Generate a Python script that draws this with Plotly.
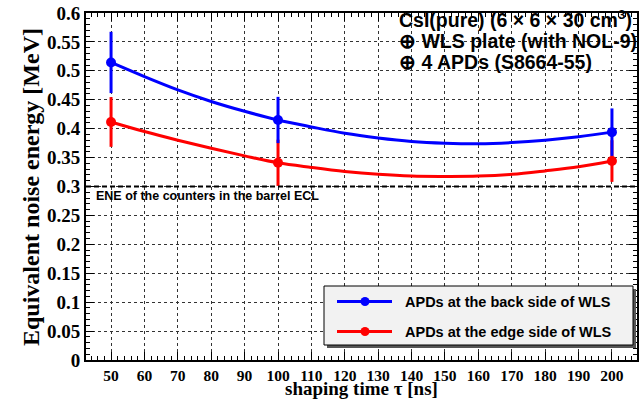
import plotly.graph_objects as go

# ---------------- data ----------------
TAU = [50, 100, 200]                       # shaping time [ns]
ENE_BACK = [0.5145, 0.415, 0.394]          # APDs at the back side of WLS [MeV]
ERR_BACK = [0.053, 0.040, 0.041]
ENE_EDGE = [0.4116, 0.341, 0.344]          # APDs at the edge side of WLS [MeV]
ERR_EDGE = [0.043, 0.040, 0.036]

FIT_TAU = [50, 60, 70, 80, 90, 100, 110, 120, 130, 140, 150, 160, 170, 180, 190, 200]
FIT_BACK = [0.5145, 0.490, 0.467, 0.447, 0.430, 0.415, 0.403, 0.392, 0.384, 0.378,
            0.375, 0.374, 0.376, 0.380, 0.386, 0.394]
FIT_EDGE = [0.4116, 0.395, 0.380, 0.366, 0.353, 0.341, 0.333, 0.326, 0.321, 0.318,
            0.3175, 0.318, 0.321, 0.327, 0.334, 0.344]

BARREL_ENE = 0.3
X_TICKS = list(range(50, 201, 10))
Y_TICKS = [0, 0.05, 0.1, 0.15, 0.2, 0.25, 0.3, 0.35, 0.4, 0.45, 0.5, 0.55, 0.6]
Y_TICK_TEXT = ["0", "0.05", "0.1", "0.15", "0.2", "0.25", "0.3", "0.35", "0.4",
               "0.45", "0.5", "0.55", "0.6"]

SERIES = [
    ("APDs at the back side of WLS", "#0000ff"),
    ("APDs at the edge side of WLS", "#ff0000"),
]
X_TITLE = "shaping time τ [ns]"
Y_TITLE = "Equivalent noise energy [MeV]"

# ---------------- geometry helpers (pixels -> paper) ----------------
W, H = 644, 400
ML, MR, MT, MB = 86, 7, 13, 40
PW, PH = W - ML - MR, H - MT - MB


def px(x):
    return (x - ML) / PW


def py(y):
    return (H - MB - y) / PH


fig = go.Figure()

# fit curves
fig.add_trace(go.Scatter(x=FIT_TAU, y=FIT_EDGE, mode="lines", line=dict(color=SERIES[1][1], width=3, shape="spline"),
                         showlegend=False, hoverinfo="skip"))
fig.add_trace(go.Scatter(x=FIT_TAU, y=FIT_BACK, mode="lines", line=dict(color=SERIES[0][1], width=3, shape="spline"),
                         showlegend=False, hoverinfo="skip"))
# data points with errors (red first so blue sits on top)
fig.add_trace(go.Scatter(x=TAU, y=ENE_EDGE, mode="markers", name=SERIES[1][0],
                         marker=dict(color=SERIES[1][1], size=10),
                         error_y=dict(type="data", array=ERR_EDGE, color=SERIES[1][1], thickness=3, width=0),
                         showlegend=False))
fig.add_trace(go.Scatter(x=TAU, y=ENE_BACK, mode="markers", name=SERIES[0][0],
                         marker=dict(color=SERIES[0][1], size=10),
                         error_y=dict(type="data", array=ERR_BACK, color=SERIES[0][1], thickness=3, width=0),
                         showlegend=False))

shapes = []
# barrel ECL reference line
shapes.append(dict(type="line", xref="paper", x0=0, x1=1, yref="y", y0=BARREL_ENE, y1=BARREL_ENE,
                   line=dict(color="black", width=2, dash="5px,3px")))

# manual legend (ROOT style box with shadow)
bx0, bx1, by0, by1 = 324, 633, 286, 345
shapes.append(dict(type="rect", xref="paper", yref="paper", x0=px(bx0 + 3), x1=px(bx1 + 3),
                   y0=py(by1 + 3), y1=py(by0 + 3), fillcolor="#555555", line=dict(width=0)))
shapes.append(dict(type="rect", xref="paper", yref="paper", x0=px(bx0), x1=px(bx1),
                   y0=py(by1), y1=py(by0), fillcolor="#f2f2f2", line=dict(color="black", width=1)))
annotations = []
for i, (label, color) in enumerate(SERIES):
    yc = 301.5 + 30 * i
    shapes.append(dict(type="line", xref="paper", yref="paper", x0=px(337), x1=px(392),
                       y0=py(yc), y1=py(yc), line=dict(color=color, width=3)))
    shapes.append(dict(type="circle", xref="paper", yref="paper", x0=px(360.5), x1=px(369.5),
                       y0=py(yc + 4.5), y1=py(yc - 4.5), fillcolor=color, line=dict(color=color, width=0)))
    annotations.append(dict(text=label, xref="paper", yref="paper", x=px(403), y=py(yc),
                            xanchor="left", yanchor="middle", showarrow=False,
                            font=dict(family="Liberation Sans", size=14.5, color="black", weight="bold")))

# header text
header = ["CsI(pure) (6 × 6 × 30 cm<sup>3</sup>)", "⊕ WLS plate (with NOL-9)", "⊕ 4 APDs (S8664-55)"]
for j, (t, yc) in enumerate(zip(header, [19, 41, 62])):
    annotations.append(dict(text=t, xref="paper", yref="paper", x=px(397), y=py(yc),
                            xanchor="left", yanchor="middle", showarrow=False,
                            font=dict(family="Liberation Sans", size=19.5, color="black", weight="bold")))

annotations.append(dict(text="ENE of the counters in the barrel ECL", xref="paper", yref="y",
                        x=px(94), y=BARREL_ENE, yshift=-9, xanchor="left", yanchor="middle", showarrow=False,
                        font=dict(family="Liberation Sans", size=12.5, color="black", weight="bold")))

# axis titles
annotations.append(dict(text=X_TITLE, xref="paper", yref="paper", x=0.5, y=py(388.5),
                        xanchor="center", yanchor="middle", showarrow=False,
                        font=dict(family="Liberation Serif", size=19, color="black", weight="bold")))
annotations.append(dict(text=Y_TITLE, xref="paper", yref="paper", x=px(31), y=py(187), textangle=-90,
                        xanchor="center", yanchor="middle", showarrow=False,
                        font=dict(family="Liberation Serif", size=24, color="black", weight="bold")))

fig.update_layout(
    width=W, height=H,
    margin=dict(l=ML, r=MR, t=MT, b=MB),
    paper_bgcolor="white", plot_bgcolor="white",
    showlegend=False,
    shapes=shapes, annotations=annotations,
)

fig.update_xaxes(
    range=[42.5, 207.5], tickmode="array", tickvals=X_TICKS,
    ticks="inside", ticklen=8, tickwidth=1, tickcolor="black",
    minor=dict(dtick=2, tick0=50, ticks="inside", ticklen=4, tickwidth=1, tickcolor="black", showgrid=False),
    showgrid=True, gridcolor="#333333", griddash="dot", gridwidth=1,
    showline=True, linecolor="black", linewidth=2, mirror="ticks", zeroline=False,
    tickfont=dict(family="Liberation Serif", size=15.5, color="black", weight="bold"),
    automargin=False,
)
fig.update_yaxes(
    range=[0, 0.6], tickmode="array", tickvals=Y_TICKS, ticktext=Y_TICK_TEXT,
    ticks="inside", ticklen=8, tickwidth=1, tickcolor="black",
    minor=dict(dtick=0.01, tick0=0, ticks="inside", ticklen=4, tickwidth=1, tickcolor="black", showgrid=False),
    showgrid=True, gridcolor="#333333", griddash="dot", gridwidth=1,
    showline=True, linecolor="black", linewidth=2, mirror="ticks", zeroline=False,
    tickfont=dict(family="Liberation Serif", size=19, color="black", weight="bold"),
    automargin=False,
)

fig.write_html("out.html")
